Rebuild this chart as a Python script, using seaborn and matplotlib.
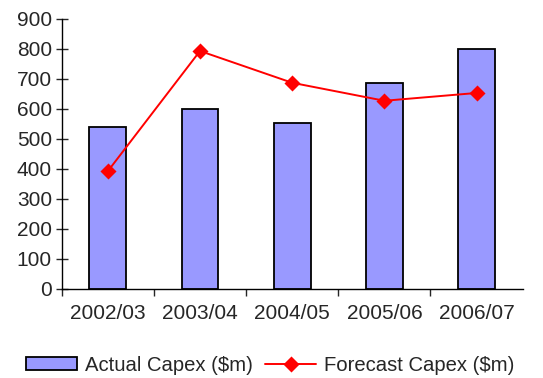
import matplotlib
matplotlib.use("Agg")
import matplotlib.pyplot as plt
import seaborn as sns
from matplotlib.ticker import FixedLocator

years = ["2002/03", "2003/04", "2004/05", "2005/06", "2006/07"]
actual = [540, 600, 553, 687, 800]
forecast = [392, 793, 687, 627, 653]
y_ticks = [0, 100, 200, 300, 400, 500, 600, 700, 800, 900]

sns.set_style("white")
plt.rcParams["font.family"] = ["Liberation Sans", "DejaVu Sans"]

fig = plt.figure(figsize=(5.43, 3.78), dpi=100)
ax = fig.add_axes([0.1136, 0.236, 0.849, 0.714])

sns.barplot(x=years, y=actual, color="#9999FF", width=0.4, edgecolor="black",
            linewidth=1.3, saturation=1, label="Actual Capex ($m)", ax=ax, zorder=2)
sns.pointplot(x=years, y=forecast, color="#FF0000", markers="D", markersize=7.5,
              linewidth=1.4, label="Forecast Capex ($m)", ax=ax, zorder=3)
if ax.get_legend() is not None:
    ax.get_legend().remove()

ax.set_xlim(-0.5, 4.5)
ax.set_ylim(0, 900)
ax.set_yticks(y_ticks)
ax.xaxis.set_minor_locator(FixedLocator([-0.5, 0.5, 1.5, 2.5, 3.5]))
ax.tick_params(axis="x", which="major", length=0, labelsize=15, pad=11)
ax.tick_params(axis="x", which="minor", length=5, width=1, direction="out", bottom=True)
ax.tick_params(axis="y", length=8, width=1, direction="inout", labelsize=15, pad=3, left=True)
for s in ["top", "right"]:
    ax.spines[s].set_visible(False)
for s in ["left", "bottom"]:
    ax.spines[s].set_color("black")
    ax.spines[s].set_linewidth(1)
ax.set_xlabel("")
ax.set_ylabel("")

handles, labels = ax.get_legend_handles_labels()
order = [labels.index("Actual Capex ($m)"), labels.index("Forecast Capex ($m)")]
fig.legend([handles[i] for i in order], [labels[i] for i in order],
           loc="center", bbox_to_anchor=(0.498, 0.034), ncol=2, frameon=False,
           fontsize=14.6, handlelength=2.5, handleheight=0.6, handletextpad=0.4,
           columnspacing=0.6, borderpad=0)

fig.savefig("out.png", dpi=100)
